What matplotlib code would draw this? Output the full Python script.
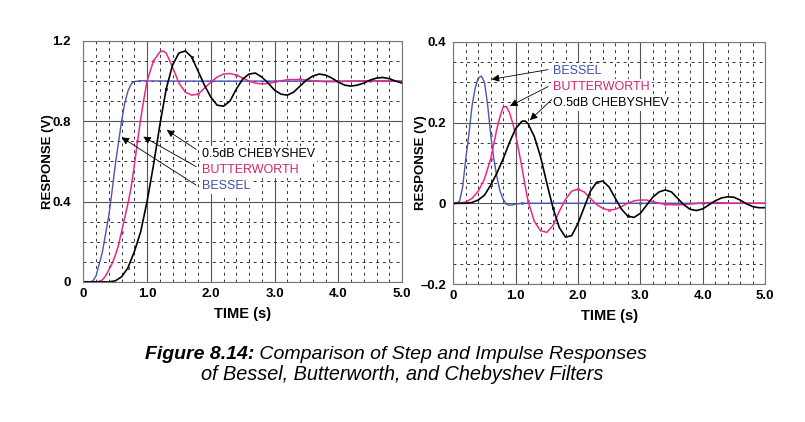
import matplotlib.pyplot as plt
from matplotlib.ticker import MultipleLocator

plt.rcParams['font.family'] = ['Liberation Sans', 'DejaVu Sans']

# ---- step responses (left panel) ----
bessel_step_t = [0, 0.1, 0.15, 0.2, 0.25, 0.3, 0.35, 0.4, 0.45, 0.5, 0.55, 0.6,
                 0.65, 0.7, 0.75, 0.8, 0.9, 1.0, 1.5, 2.0, 3.0, 4.0, 5.0]
bessel_step_v = [0, 0, 0.005, 0.03, 0.09, 0.15, 0.24, 0.33, 0.45, 0.58, 0.69, 0.80,
                 0.89, 0.95, 0.985, 0.998, 1.002, 1.001, 1.0, 1.0, 1.0, 1.0, 1.0]

butter_step_t = [0, 0.2, 0.25, 0.3, 0.35, 0.4, 0.45, 0.5, 0.55, 0.6, 0.65, 0.7,
                 0.75, 0.8, 0.85, 0.9, 0.95, 1.0, 1.05, 1.1, 1.2, 1.25, 1.3, 1.4,
                 1.5, 1.6, 1.7, 1.8, 1.9, 2.0, 2.1, 2.2, 2.3, 2.4, 2.5, 2.6, 2.7,
                 2.8, 2.9, 3.0, 3.2, 3.4, 3.6, 3.8, 4.0, 4.2, 4.5, 5.0]
butter_step_v = [0, 0, 0.003, 0.01, 0.03, 0.06, 0.09, 0.13, 0.18, 0.25, 0.32, 0.39,
                 0.47, 0.58, 0.70, 0.81, 0.91, 1.0, 1.05, 1.10, 1.145, 1.15, 1.14, 1.07,
                 0.99, 0.945, 0.93, 0.935, 0.965, 0.995, 1.02, 1.035, 1.038, 1.03, 1.015,
                 1.0, 0.99, 0.986, 0.988, 0.995, 1.007, 1.008, 1.002, 0.997, 0.997, 1.0,
                 1.002, 1.0]

cheby_step_t = [0, 0.4, 0.5, 0.6, 0.7, 0.8, 0.9, 1.0, 1.1, 1.2, 1.3, 1.4, 1.5, 1.6,
                1.7, 1.8, 1.9, 2.0, 2.1, 2.2, 2.3, 2.4, 2.5, 2.6, 2.7, 2.8, 2.9, 3.0,
                3.1, 3.2, 3.3, 3.4, 3.5, 3.6, 3.7, 3.8, 3.9, 4.0, 4.1, 4.2, 4.3, 4.4,
                4.5, 4.6, 4.7, 4.8, 4.9, 5.0]
cheby_step_v = [0, 0, 0.005, 0.025, 0.07, 0.15, 0.25, 0.40, 0.58, 0.78, 0.96, 1.08,
                1.14, 1.15, 1.12, 1.05, 0.98, 0.92, 0.88, 0.875, 0.90, 0.96, 1.01,
                1.035, 1.04, 1.02, 0.99, 0.955, 0.935, 0.93, 0.945, 0.975, 1.005, 1.025,
                1.035, 1.03, 1.015, 0.995, 0.98, 0.975, 0.98, 0.99, 1.005, 1.015, 1.018,
                1.012, 1.0, 0.99]

# ---- impulse responses (right panel) ----
bessel_imp_t = [0, 0.05, 0.1, 0.15, 0.2, 0.25, 0.3, 0.35, 0.4, 0.45, 0.5, 0.55, 0.6,
                0.65, 0.7, 0.75, 0.8, 0.85, 0.9, 0.95, 1.0, 1.1, 2.0, 3.0, 4.0, 5.0]
bessel_imp_v = [0, 0, 0.005, 0.04, 0.11, 0.17, 0.24, 0.285, 0.31, 0.315, 0.30, 0.245,
                0.17, 0.11, 0.065, 0.03, 0.01, -0.002, -0.005, -0.004, -0.002, 0, 0, 0,
                0, 0]

butter_imp_t = [0, 0.1, 0.2, 0.3, 0.4, 0.5, 0.6, 0.7, 0.75, 0.8, 0.85, 0.9, 0.95, 1.0,
                1.05, 1.1, 1.15, 1.2, 1.3, 1.4, 1.5, 1.6, 1.7, 1.8, 1.9, 2.0, 2.1, 2.2,
                2.3, 2.4, 2.5, 2.6, 2.7, 2.8, 2.9, 3.0, 3.1, 3.2, 3.4, 3.6, 3.8, 4.0,
                4.2, 4.5, 5.0]
butter_imp_v = [0, 0, 0.003, 0.012, 0.03, 0.06, 0.11, 0.185, 0.215, 0.238, 0.24,
                0.225, 0.2, 0.17, 0.13, 0.09, 0.045, 0.005, -0.045, -0.068, -0.072,
                -0.055, -0.02, 0.01, 0.03, 0.035, 0.028, 0.012, -0.003, -0.013, -0.017,
                -0.015, -0.008, 0.0, 0.006, 0.008, 0.008, 0.004, -0.003, -0.004, -0.002,
                0.001, 0.002, 0.0, 0.0]

cheby_imp_t = [0, 0.2, 0.3, 0.4, 0.5, 0.6, 0.7, 0.8, 0.9, 1.0, 1.1, 1.15, 1.2, 1.3,
               1.4, 1.5, 1.6, 1.7, 1.8, 1.9, 2.0, 2.1, 2.2, 2.3, 2.4, 2.5, 2.6, 2.7,
               2.8, 2.9, 3.0, 3.1, 3.2, 3.3, 3.4, 3.5, 3.6, 3.7, 3.8, 3.9, 4.0, 4.1,
               4.2, 4.3, 4.4, 4.5, 4.6, 4.7, 4.8, 4.9, 5.0]
cheby_imp_v = [0, 0, 0.002, 0.008, 0.02, 0.045, 0.075, 0.11, 0.15, 0.185, 0.203,
               0.204, 0.197, 0.165, 0.115, 0.05, -0.012, -0.06, -0.084, -0.08, -0.05,
               -0.01, 0.03, 0.052, 0.055, 0.04, 0.012, -0.015, -0.032, -0.035, -0.025,
               -0.005, 0.015, 0.028, 0.033, 0.028, 0.012, -0.004, -0.015, -0.018,
               -0.014, -0.004, 0.006, 0.013, 0.016, 0.015, 0.008, -0.001, -0.008,
               -0.011, -0.011]

x_ticks = [0, 1, 2, 3, 4, 5]
x_labels = ['0', '1.0', '2.0', '3.0', '4.0', '5.0']
step_yticks = [0, 0.4, 0.8, 1.2]
step_ylabels = ['0', '0.4', '0.8', '1.2']
imp_yticks = [-0.2, 0, 0.2, 0.4]
imp_ylabels = ['\u20130.2', '0', '0.2', '0.4']

BLUE = '#4a55b4'
PINK = '#e8288a'
BLUE_TXT = '#3f4fb0'
PINK_TXT = '#d6256f'

fig = plt.figure(figsize=(8.05, 4.22), dpi=100)
ax1 = fig.add_axes([0.1035, 0.332, 0.3959, 0.571])
ax2 = fig.add_axes([0.5631, 0.327, 0.3872, 0.574])


def style_axes(ax, yticks, ylabels, ymin, ymax, yminor, ypad):
    ax.set_xlim(0, 5)
    ax.set_ylim(ymin, ymax)
    ax.set_xticks(x_ticks)
    ax.set_xticklabels(x_labels, fontweight='bold', fontsize=9.5)
    ax.set_yticks(yticks)
    ax.set_yticklabels(ylabels, fontweight='bold', fontsize=9.5)
    ax.xaxis.set_minor_locator(MultipleLocator(0.2))
    ax.yaxis.set_minor_locator(MultipleLocator(yminor))
    ax.tick_params(which='both', length=0)
    ax.tick_params(axis='x', pad=4.5)
    ax.tick_params(axis='y', pad=ypad)
    ax.grid(which='major', color='#555555', lw=0.8, ls='-')
    ax.grid(which='minor', color='#333333', lw=0.7, ls=(0, (3, 4)))
    ax.set_axisbelow(True)
    for s in ax.spines.values():
        s.set_color('#777777')
        s.set_linewidth(0.8)
    ax.set_xlabel('TIME (s)', fontweight='bold', fontsize=10.5, labelpad=5)
    ax.set_ylabel('RESPONSE (V)', fontweight='bold', fontsize=9.5)


# tiny open squares that sit on the traces in the original scan
mk = dict(marker='s', markersize=1.8, markerfacecolor='none', markeredgewidth=0.5)

# left: step responses
ax1.plot(bessel_step_t, bessel_step_v, color=BLUE, lw=1.0, markevery=[11, 19, 20, 21], **mk)
ax1.plot(butter_step_t, butter_step_v, color=PINK, lw=1.1, markevery=[9, 14, 19, 27, 33, 41, 46], **mk)
ax1.plot(cheby_step_t, cheby_step_v, color='black', lw=1.2, markevery=[4, 10, 14], **mk)
style_axes(ax1, step_yticks, step_ylabels, 0, 1.2, 0.1, 9)
ax1.yaxis.set_label_coords(-0.093, 0.5)

box = dict(facecolor='white', edgecolor='none', pad=1.5)
ax1.text(1.86, 0.637, '0.5dB CHEBYSHEV', color='black', fontsize=9, va='center', bbox=box)
ax1.text(1.86, 0.557, 'BUTTERWORTH', color=PINK_TXT, fontsize=9, va='center', bbox=box)
ax1.text(1.86, 0.479, 'BESSEL', color=BLUE_TXT, fontsize=9, va='center', bbox=box)

arrow = dict(arrowstyle='-|>', color='black', lw=0.6, mutation_scale=11,
             shrinkA=0, shrinkB=0)
ax1.annotate('', xy=(1.31, 0.756), xytext=(1.77, 0.66), arrowprops=arrow)
ax1.annotate('', xy=(0.94, 0.723), xytext=(1.77, 0.574), arrowprops=arrow)
ax1.annotate('', xy=(0.60, 0.72), xytext=(1.77, 0.482), arrowprops=arrow)

# right: impulse responses
ax2.plot(bessel_imp_t, bessel_imp_v, color=BLUE, lw=1.0, markevery=[12, 21, 23, 24], **mk)
ax2.plot(butter_imp_t, butter_imp_v, color=PINK, lw=1.1, markevery=[0, 6, 17, 25, 30, 38], **mk)
ax2.plot(cheby_imp_t, cheby_imp_v, color='black', lw=1.2, markevery=[5, 16, 28], **mk)
style_axes(ax2, imp_yticks, imp_ylabels, -0.2, 0.4, 0.05, 5)
ax2.yaxis.set_label_coords(-0.083, 0.5)

ax2.text(1.60, 0.328, 'BESSEL', color=BLUE_TXT, fontsize=9, va='center', bbox=box)
ax2.text(1.60, 0.287, 'BUTTERWORTH', color=PINK_TXT, fontsize=9, va='center', bbox=box)
ax2.text(1.60, 0.249, 'O.5dB CHEBYSHEV', color='black', fontsize=9, va='center', bbox=box)
ax2.annotate('', xy=(0.616, 0.307), xytext=(1.52, 0.331), arrowprops=arrow)
ax2.annotate('', xy=(0.91, 0.241), xytext=(1.52, 0.289), arrowprops=arrow)
ax2.annotate('', xy=(1.23, 0.206), xytext=(1.58, 0.257), arrowprops=arrow)

# caption: bold-italic figure number followed by italic text
cap = fig.text(145 / 805, 1 - 359 / 422, 'Figure 8.14:', fontsize=14, fontweight='bold',
               fontstyle='italic', ha='left', va='baseline')
ax1.annotate(' Comparison of Step and Impulse Responses', xy=(1, 0), xycoords=cap,
             fontsize=14, fontstyle='italic', ha='left', va='bottom',
             annotation_clip=False)
fig.text(402 / 805, 1 - 380 / 422, 'of Bessel, Butterworth, and Chebyshev Filters',
         fontsize=14.3, fontstyle='italic', ha='center', va='baseline')

fig.savefig('out.png', dpi=100)
